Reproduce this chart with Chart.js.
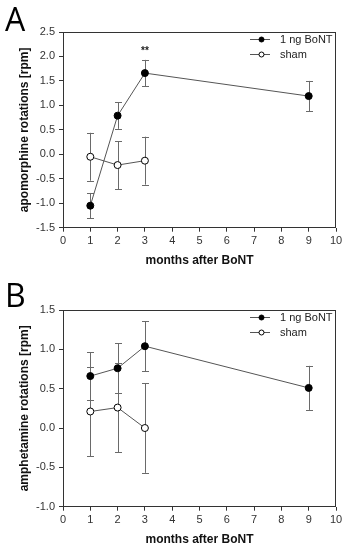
<!DOCTYPE html>
<html>
<head>
<meta charset="utf-8">
<script src="https://cdn.jsdelivr.net/npm/chart.js@4.4.0/dist/chart.umd.min.js"></script>
<style>
  body { margin: 0; background: #fff; width: 347px; height: 550px; overflow: hidden; position: relative; }
  .panel { position: absolute; left: 0; width: 347px; }
  .letter { position: absolute; left: 5px; font-family: "Open Sans", sans-serif; font-size: 32px; line-height: 1; color: #000; }
</style>
</head>
<body>
<div class="panel" style="top:0;height:270px;"><canvas id="chartA"></canvas></div>
<div class="panel" style="top:270px;height:280px;"><canvas id="chartB"></canvas></div>
<div class="letter" style="top:3px;">A</div>
<div class="letter" style="top:279px;">B</div>
<script>
// months after BoNT
const monthsBont = [1, 2, 3, 9];
const monthsSham = [1, 2, 3];

// panel A: apomorphine rotations [rpm]
const apoBont = [-1.05, 0.79, 1.66, 1.19];
const apoBontErr = [0.26, 0.27, 0.27, 0.31];
const apoSham = [-0.05, -0.22, -0.13];
const apoShamErr = [0.49, 0.49, 0.49];
const apoSig = [null, null, '**', null];

// panel B: amphetamine rotations [rpm]
const ampBont = [0.66, 0.76, 1.04, 0.51];
const ampBontErr = [0.3, 0.32, 0.32, 0.28];
const ampSham = [0.21, 0.26, 0.0];
const ampShamErr = [0.57, 0.57, 0.57];

const xTicks = [0, 1, 2, 3, 4, 5, 6, 7, 8, 9, 10];

const FONT = '"Liberation Sans", Arial, sans-serif';
const lineGrey = '#555';
const errGrey = '#6a6a6a';

function pts(xs, ys) {
  return xs.map((x, i) => ({ x: x, y: ys[i] }));
}

// error bars drawn under the points, ** marks above the bars
const errorBars = {
  id: 'errorBars',
  beforeDatasetsDraw(chart) {
    const ctx = chart.ctx;
    const xs = chart.scales.x, ys = chart.scales.y;
    ctx.save();
    ctx.strokeStyle = errGrey;
    ctx.lineWidth = 1;
    chart.data.datasets.forEach(ds => {
      ds.data.forEach((p, i) => {
        const e = ds.errors[i];
        const px = Math.round(xs.getPixelForValue(p.x)) + 0.5;
        const top = ys.getPixelForValue(p.y + e);
        const bot = ys.getPixelForValue(p.y - e);
        ctx.beginPath();
        ctx.moveTo(px, top); ctx.lineTo(px, bot);
        ctx.moveTo(px - 3.5, Math.round(top) + 0.5); ctx.lineTo(px + 3.5, Math.round(top) + 0.5);
        ctx.moveTo(px - 3.5, Math.round(bot) + 0.5); ctx.lineTo(px + 3.5, Math.round(bot) + 0.5);
        ctx.stroke();
      });
    });
    ctx.restore();
  },
  afterDatasetsDraw(chart) {
    const ctx = chart.ctx;
    const xs = chart.scales.x, ys = chart.scales.y;
    ctx.save();
    ctx.fillStyle = '#222';
    ctx.font = 'bold 10px ' + FONT;
    ctx.textAlign = 'center';
    ctx.textBaseline = 'middle';
    chart.data.datasets.forEach(ds => {
      if (!ds.sig) return;
      ds.data.forEach((p, i) => {
        if (!ds.sig[i]) return;
        ctx.fillText(ds.sig[i], xs.getPixelForValue(p.x), ys.getPixelForValue(p.y + ds.errors[i]) - 9);
      });
    });
    ctx.restore();
  }
};

// frame round the plot area plus the legend in its top right corner
const frameLegend = {
  id: 'frameLegend',
  afterDraw(chart) {
    const ctx = chart.ctx;
    const a = chart.chartArea;
    ctx.save();
    ctx.strokeStyle = '#333';
    ctx.lineWidth = 1;
    ctx.strokeRect(Math.round(a.left) + 0.5, Math.round(a.top) + 0.5,
      Math.round(a.right - a.left) - 1, Math.round(a.bottom - a.top) - 1);

    ctx.font = '11px ' + FONT;
    ctx.textBaseline = 'middle';
    chart.data.datasets.forEach((ds, i) => {
      const y = Math.round(a.top + 7 + i * 14.5) + 0.5;
      const x0 = a.right - 86;
      ctx.strokeStyle = lineGrey;
      ctx.beginPath();
      ctx.moveTo(x0, y); ctx.lineTo(x0 + 20, y);
      ctx.stroke();
      ctx.beginPath();
      ctx.arc(x0 + 11.5, y, 2.5, 0, Math.PI * 2);
      ctx.fillStyle = ds.pointBackgroundColor;
      ctx.fill();
      ctx.strokeStyle = '#000';
      ctx.stroke();
      ctx.fillStyle = '#222';
      ctx.fillText(ds.label, x0 + 30, y + 0.5);
    });
    ctx.restore();
  }
};

function makeChart(id, bont, bontErr, sham, shamErr, sig, yMin, yMax, yTitle, padTop, xHeight, titlePad) {
  return new Chart(document.getElementById(id), {
    type: 'line',
    data: {
      datasets: [{
        label: '1 ng BoNT',
        data: pts(monthsBont, bont),
        errors: bontErr,
        sig: sig,
        borderColor: lineGrey,
        borderWidth: 1,
        pointBackgroundColor: '#000',
        pointBorderColor: '#000',
        pointBorderWidth: 1,
        pointRadius: 3.5,
        tension: 0
      }, {
        label: 'sham',
        data: pts(monthsSham, sham),
        errors: shamErr,
        borderColor: lineGrey,
        borderWidth: 1,
        pointBackgroundColor: '#fff',
        pointBorderColor: '#000',
        pointBorderWidth: 1,
        pointRadius: 3.5,
        tension: 0
      }]
    },
    options: {
      responsive: true,
      maintainAspectRatio: false,
      animation: false,
      events: [],
      layout: { padding: { top: padTop, right: 11, left: 0, bottom: 0 } },
      plugins: { legend: { display: false }, tooltip: { enabled: false } },
      scales: {
        x: {
          type: 'linear',
          min: 0, max: 10,
          afterBuildTicks(s) { s.ticks = xTicks.map(v => ({ value: v })); },
          afterFit(s) { s.height = xHeight; },
          border: { display: false },
          grid: { drawOnChartArea: false, drawTicks: true, tickLength: 4, color: '#333' },
          ticks: { color: '#333', font: { family: FONT, size: 11 }, padding: 3, maxRotation: 0 },
          title: {
            display: true, text: 'months after BoNT', color: '#111',
            font: { family: FONT, size: 12, weight: 'bold' },
            padding: { top: 0, bottom: titlePad }
          }
        },
        y: {
          min: yMin, max: yMax,
          ticks: {
            stepSize: 0.5, color: '#333', padding: 4,
            font: { family: FONT, size: 11 },
            callback: v => v.toFixed(1)
          },
          afterFit(s) { s.width = 63; },
          border: { display: false },
          grid: { drawOnChartArea: false, drawTicks: true, tickLength: 4, color: '#333' },
          title: {
            display: true, text: yTitle, color: '#111',
            font: { family: FONT, size: 12, weight: 'bold' },
            padding: { top: 17, bottom: 0 }
          }
        }
      }
    },
    plugins: [errorBars, frameLegend]
  });
}

makeChart('chartA', apoBont, apoBontErr, apoSham, apoShamErr, apoSig,
  -1.5, 2.5, 'apomorphine rotations [rpm]', 32, 42.3, 2);
makeChart('chartB', ampBont, ampBontErr, ampSham, ampShamErr, null,
  -1.0, 1.5, 'amphetamine rotations [rpm]', 40, 43.3, 3.5);
</script>
</body>
</html>
